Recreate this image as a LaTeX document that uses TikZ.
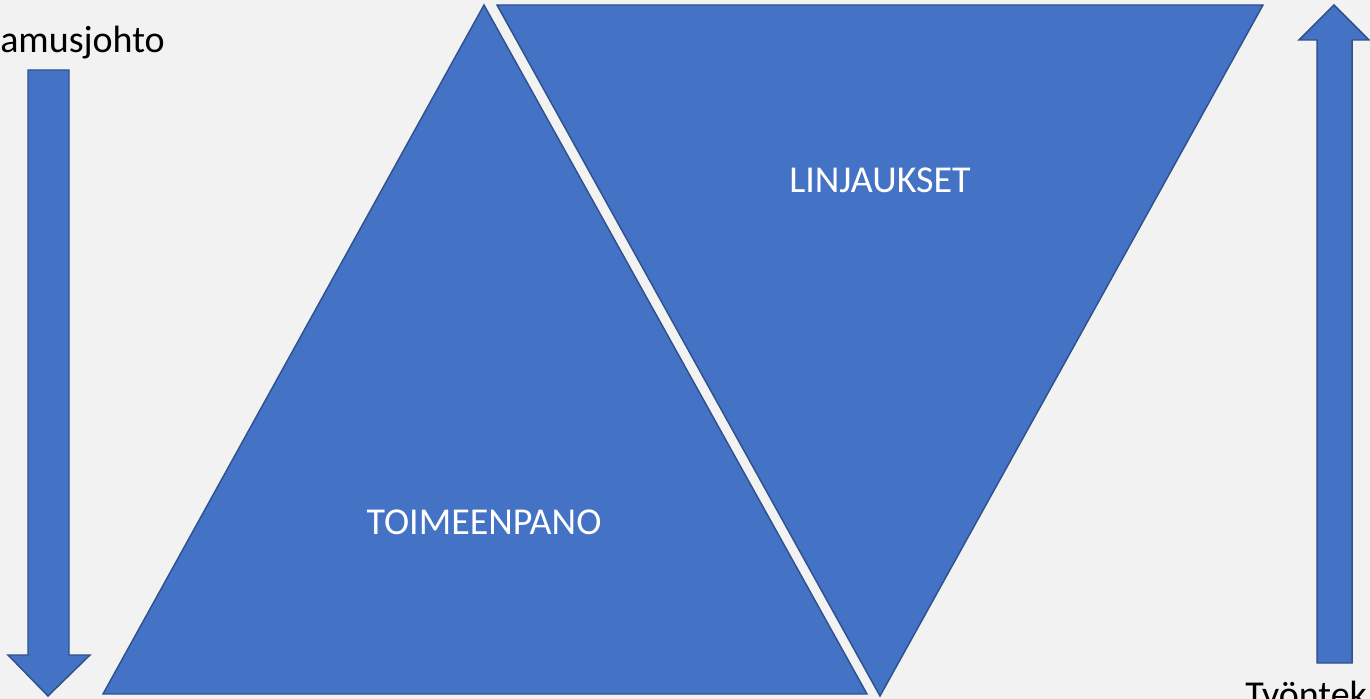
\documentclass[tikz,border=0pt]{standalone}
\usepackage{fontspec}
\setmainfont{Carlito}
\usetikzlibrary{positioning}
\definecolor{blockfill}{HTML}{4472C4}
\definecolor{blockline}{HTML}{2F528F}
\definecolor{pagebg}{HTML}{F2F2F2}

\begin{document}
\begin{tikzpicture}[
        x=0.75pt, y=-0.75pt,
        block/.style={fill=blockfill, draw=blockline, line width=1.1pt, line join=miter},
        inlabel/.style={text=white, inner sep=0pt, font=\fontsize{28.5}{34}\selectfont},
        sidelabel/.style={text=black, inner sep=0pt, font=\fontsize{28.5}{34}\selectfont}
    ]
        \useasboundingbox (0,0) rectangle (1370,699);
        \clip (0,0) rectangle (1370,699);
        \fill[pagebg] (0,0) rectangle (1370,699);
        % triangles
        \draw[block] (103,694) -- (867,694) -- (484,5) -- cycle;
        \draw[block] (497,5) -- (1263,5) -- (880,696) -- cycle;
        % arrows
        \draw[block] (28,70) -- (69,70) -- (69,655) -- (90,655) -- (48,696) -- (8,655) -- (28,655) -- cycle;
        \draw[block] (1317,663) -- (1352,663) -- (1352,40) -- (1369,40) -- (1334,5) -- (1299,40) -- (1317,40) -- cycle;
        \node[inlabel, anchor=base] (linj) at (880,192) {LINJAUKSET};
        \node[inlabel, anchor=base] (toim) at (484,534) {TOIMEENPANO};
        \node[sidelabel, anchor=base west] (johto) at (0,53) {amusjohto};
        \node[sidelabel, anchor=base west] (tyon) at (1245,707) {Työntek};
    \end{tikzpicture}
\end{document}
